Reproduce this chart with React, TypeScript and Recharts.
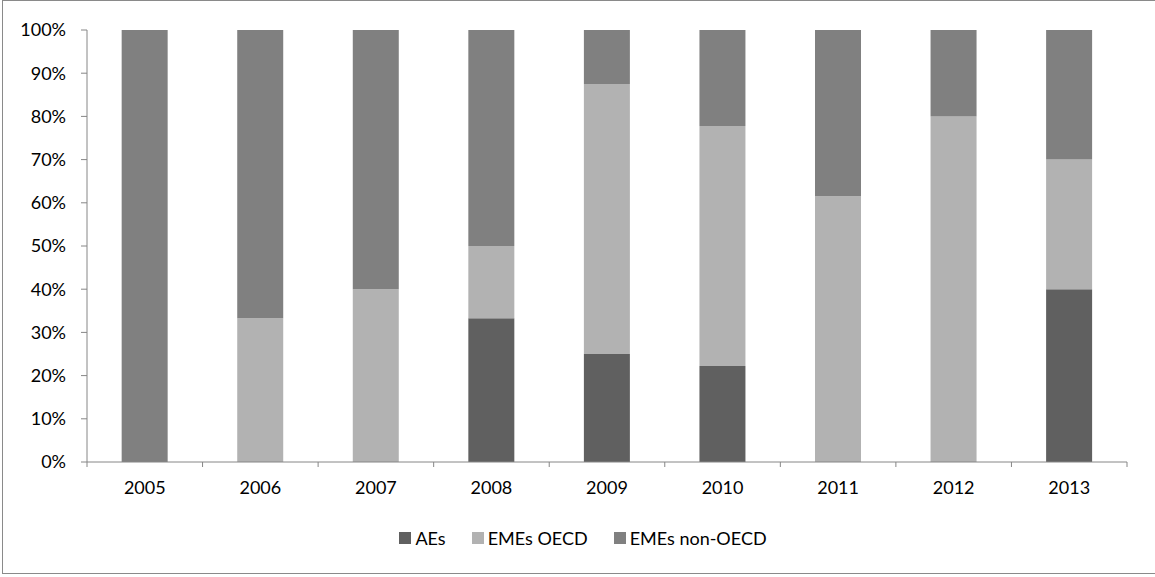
import React from "react";
import { BarChart, Bar, XAxis, YAxis, Legend } from "recharts";

// Shares of each year's total, in percent
const years = ["2005", "2006", "2007", "2008", "2009", "2010", "2011", "2012", "2013"];
const aes = [0, 0, 0, 33.3, 25, 22.2, 0, 0, 40];
const emesOecd = [0, 33.3, 40, 16.7, 62.5, 55.6, 61.5, 80, 30];
const emesNonOecd = [100, 66.7, 60, 50, 12.5, 22.2, 38.5, 20, 30];
const yTicks = [0, 10, 20, 30, 40, 50, 60, 70, 80, 90, 100];

const data = years.map((year, i) => ({
  year,
  aes: aes[i],
  emesOecd: emesOecd[i],
  emesNonOecd: emesNonOecd[i],
}));

const FONT = "Lato, 'Open Sans', sans-serif";
const AXIS = "#868686";
const FS = 18;

function LegendRow(props: any) {
  const items = props.payload || [];
  return (
    <div
      style={{
        display: "flex",
        justifyContent: "center",
        alignItems: "center",
        gap: 26,
        paddingLeft: 39,
        marginTop: -5,
        fontSize: FS,
        fontFamily: FONT,
        color: "#000",
      }}
    >
      {items.map((it: any) => (
        <div key={it.value} style={{ display: "flex", alignItems: "center" }}>
          <span
            style={{
              display: "inline-block",
              width: 12,
              height: 12,
              background: it.color,
              marginRight: 4,
            }}
          />
          <span>{it.value}</span>
        </div>
      ))}
    </div>
  );
}

// Year label at the band centre, tick marks on the band edges
function YearTick(props: any) {
  const { x, y, payload, index, visibleTicksCount } = props;
  const half = payload && typeof payload.offset === "number" ? payload.offset : 1040 / 18;
  const last = index === (visibleTicksCount ?? years.length) - 1;
  return (
    <g>
      <line x1={x - half} x2={x - half} y1={y} y2={y + 5} stroke={AXIS} />
      {last && <line x1={x + half} x2={x + half} y1={y} y2={y + 5} stroke={AXIS} />}
      <text x={x} y={y + 19} dy="0.71em" textAnchor="middle" fill="#000" fontSize={FS} fontFamily={FONT}>
        {payload.value}
      </text>
    </g>
  );
}

export default function App() {
  return (
    <div
      style={{
        position: "fixed",
        left: 0,
        top: 0,
        width: 1155,
        height: 577,
        background: "#fff",
        fontFamily: FONT,
      }}
    >
      <div
        style={{
          position: "absolute",
          left: 2,
          top: 0,
          width: 1165,
          height: 574,
          border: "1px solid #8a8a8a",
          boxSizing: "border-box",
        }}
      />
      <BarChart
        width={1155}
        height={577}
        data={data}
        barCategoryGap="30%"
        margin={{ top: 30, right: 28, left: 0, bottom: 0 }}
        style={{ position: "absolute", left: 0, top: 0 }}
      >
        <XAxis
          dataKey="year"
          interval={0}
          axisLine={{ stroke: AXIS }}
          tickLine={false}
          tickSize={0}
          tickMargin={0}
          height={70}
          tick={<YearTick />}
        />
        <YAxis
          domain={[0, 100]}
          ticks={yTicks}
          interval={0}
          width={87}
          tickSize={6}
          tickMargin={15}
          tickFormatter={(v: number) => `${v}%`}
          axisLine={{ stroke: AXIS }}
          tickLine={{ stroke: AXIS }}
          tick={{ fill: "#000", fontSize: FS, fontFamily: FONT }}
        />
        <Legend verticalAlign="bottom" align="center" height={45} content={<LegendRow />} />
        <Bar dataKey="aes" name="AEs" stackId="s" fill="#606060" isAnimationActive={false} />
        <Bar dataKey="emesOecd" name="EMEs OECD" stackId="s" fill="#b2b2b2" isAnimationActive={false} />
        <Bar dataKey="emesNonOecd" name="EMEs non-OECD" stackId="s" fill="#808080" isAnimationActive={false} />
      </BarChart>
    </div>
  );
}
